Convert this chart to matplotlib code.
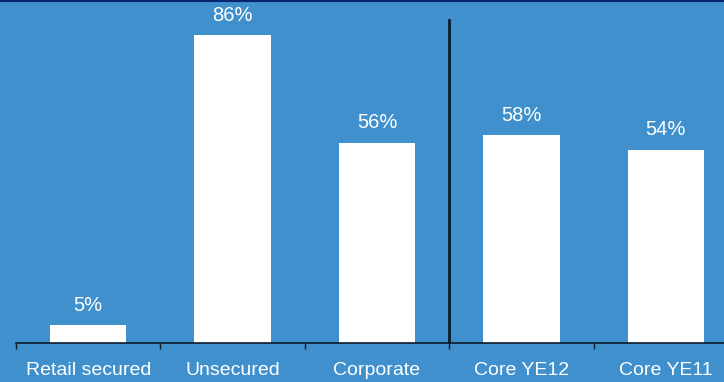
import matplotlib.pyplot as plt
from matplotlib import font_manager

categories = ["Retail secured", "Unsecured", "Corporate", "Core YE12", "Core YE11"]
values = [5, 86, 56, 58, 54]
labels = ["5%", "86%", "56%", "58%", "54%"]

names = {f.name for f in font_manager.fontManager.ttflist}
font = "Liberation Sans Narrow" if "Liberation Sans Narrow" in names else "Liberation Sans"

bg = "#3f90cc"
fig = plt.figure(figsize=(7.24, 3.82), dpi=100, facecolor=bg)
ax = fig.add_axes([16 / 724, 39 / 382, 722 / 724, 341 / 382])
ax.set_facecolor(bg)

x = range(len(categories))
ax.bar(x, values, width=0.53, color="white")
for i, (v, t) in enumerate(zip(values, labels)):
    ax.text(i, v + 2.9, t, ha="center", va="bottom", color="white",
            fontsize=14.5, family=font)

# separator between the business lines and the core totals
ax.plot([2.5, 2.5], [0.4, 90.2], color="#0d1b2a", lw=2, clip_on=False)

ax.set_xlim(-0.5, 4.5)
ax.set_ylim(0, 95.25)
ax.set_yticks([])
ax.set_xticks([-0.5, 0.5, 1.5, 2.5, 3.5, 4.5])
ax.set_xticklabels([])
ax.tick_params(axis="x", length=4, width=1, color="#0d1b2a", direction="out")
ax.set_xticks(list(x), minor=True)
ax.set_xticklabels(categories, minor=True, color="white", fontsize=14, family=font)
ax.tick_params(axis="x", which="minor", length=0, pad=14)
for s in ["top", "right", "left"]:
    ax.spines[s].set_visible(False)
ax.spines["bottom"].set_color("#0d1b2a")
ax.spines["bottom"].set_linewidth(1.2)

# thin navy rule along the top edge
fig.add_artist(plt.Line2D([0, 1], [0.998, 0.998], color="#0b2470", lw=1.5))

fig.savefig("out.png", dpi=100, facecolor=bg)
